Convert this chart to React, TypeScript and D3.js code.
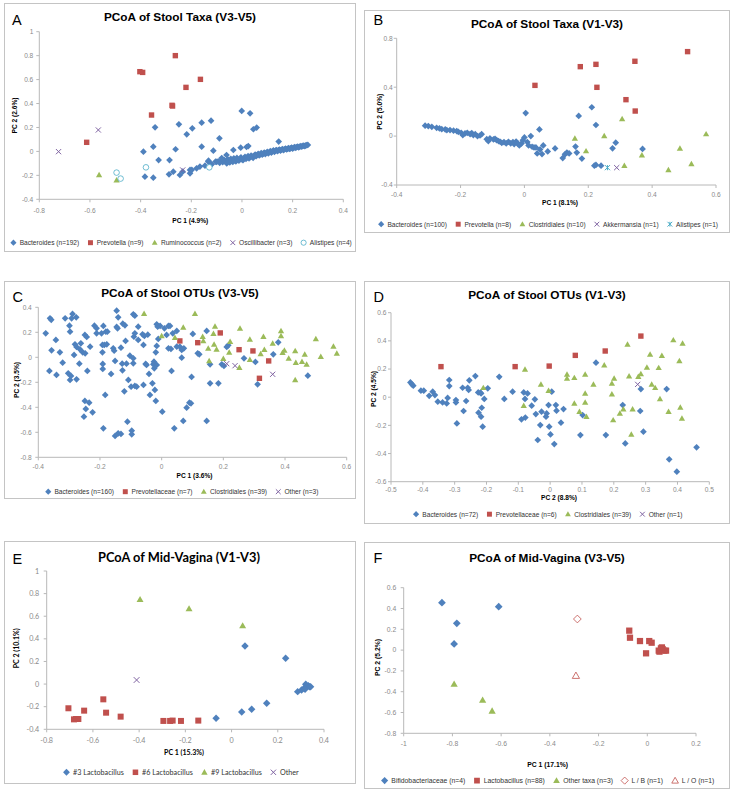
import React from 'react';
import * as d3 from 'd3';

type Pt = [number, number];

// ---------------- Panel A: PCoA of Stool Taxa (V3-V5) ----------------
const aBacteroides: Pt[] = [
  [-0.001, 0.338], [0.032, 0.318], [0.058, 0.199], [0.045, 0.185], [-0.343, 0.201], [-0.249, 0.226],
  [-0.159, 0.240], [-0.122, 0.257], [-0.196, 0.193], [-0.218, 0.143], [-0.089, 0.109], [0.145, 0.082],
  [-0.350, 0.040], [-0.389, -0.002], [-0.262, 0.018], [-0.159, 0.040], [-0.113, 0.006], [0.025, 0.045],
  [0.018, 0.037], [-0.005, 0.031], [-0.034, 0.012], [-0.061, -0.030], [-0.080, -0.055], [-0.329, -0.072],
  [-0.286, -0.072], [-0.132, -0.077], [-0.383, -0.211], [-0.350, -0.219], [-0.288, -0.191], [-0.271, -0.169],
  [-0.245, -0.197], [-0.234, -0.169], [-0.205, -0.155], [-0.205, -0.183], [-0.179, -0.141], [-0.166, -0.127],
  [-0.146, -0.119], [-0.122, -0.108], [-0.104, -0.085], [-0.133, -0.085], [-0.119, -0.107], [-0.198, -0.154],
  [-0.100, -0.088], [-0.094, -0.082], [-0.088, -0.095], [-0.082, -0.078], [-0.076, -0.090], [-0.070, -0.072],
  [-0.066, -0.084], [-0.060, -0.100], [-0.056, -0.066], [-0.052, -0.080], [-0.048, -0.092], [-0.044, -0.062],
  [-0.040, -0.076], [-0.036, -0.088], [-0.032, -0.058], [-0.028, -0.072], [-0.024, -0.084], [-0.020, -0.054],
  [-0.016, -0.068], [-0.012, -0.078], [-0.008, -0.060], [-0.004, -0.050], [0.000, -0.066], [0.004, -0.074],
  [0.008, -0.056], [0.012, -0.046], [0.016, -0.062], [0.020, -0.052], [0.024, -0.040], [0.028, -0.058],
  [0.032, -0.048], [0.036, -0.034], [0.040, -0.044], [0.044, -0.054], [0.048, -0.036], [0.052, -0.026],
  [0.056, -0.040], [0.060, -0.030], [0.064, -0.020], [0.068, -0.034], [0.072, -0.024], [0.076, -0.014],
  [0.080, -0.028], [0.084, -0.018], [0.088, -0.010], [0.092, -0.022], [0.096, -0.012], [0.100, -0.004],
  [0.104, -0.016], [0.108, -0.006], [0.112, 0.002], [0.116, -0.010], [0.120, 0.000], [0.124, 0.008],
  [0.128, -0.004], [0.132, 0.006], [0.136, 0.012], [0.140, 0.002], [0.144, 0.010], [0.148, 0.016],
  [0.152, 0.006], [0.156, 0.014], [0.160, 0.020], [0.164, 0.010], [0.168, 0.018], [0.172, 0.024],
  [0.176, 0.016], [0.180, 0.022], [0.184, 0.028], [0.188, 0.020], [0.192, 0.026], [0.196, 0.032],
  [0.200, 0.024], [0.204, 0.030], [0.208, 0.036], [0.212, 0.030], [0.216, 0.036], [0.220, 0.040],
  [0.224, 0.034], [0.228, 0.040], [0.232, 0.044], [0.236, 0.040], [0.240, 0.046], [0.244, 0.048],
  [0.248, 0.044], [0.252, 0.050], [0.256, 0.052], [0.260, 0.054],
];
const aPrevotella: Pt[] = [
  [-0.263, 0.80], [-0.403, 0.666], [-0.392, 0.66], [-0.164, 0.602], [-0.221, 0.535], [-0.274, 0.379],
  [-0.276, 0.385], [-0.357, 0.304], [-0.613, 0.076],
];
const aRuminococcus: Pt[] = [[-0.564, -0.197], [-0.495, -0.239]];
const aOscillibacter: Pt[] = [[-0.567, 0.179], [-0.724, -0.002], [-0.234, -0.155]];
const aAlistipes: Pt[] = [[-0.495, -0.177], [-0.479, -0.227], [-0.379, -0.133], [-0.129, -0.133]];
const aXTicks = [-0.8, -0.6, -0.4, -0.2, 0, 0.2, 0.4];
const aYTicks = [-0.4, -0.2, 0, 0.2, 0.4, 0.6, 0.8, 1];

// ---------------- Panel B: PCoA of Stool Taxa (V1-V3) ----------------
const bBacteroides: Pt[] = [
  [-0.311, 0.085], [-0.301, 0.082], [-0.290, 0.076], [-0.275, 0.068], [-0.266, 0.063], [-0.259, 0.057],
  [-0.248, 0.055], [-0.243, 0.049], [-0.233, 0.049], [-0.222, 0.044], [-0.212, 0.041], [-0.207, 0.035],
  [-0.198, 0.027], [-0.193, 0.008], [-0.186, 0.022], [-0.179, 0.027], [-0.170, 0.016], [-0.165, 0.025],
  [-0.160, 0.008], [-0.154, 0.016], [-0.147, 0.000], [-0.139, 0.005], [-0.134, 0.016], [-0.118, -0.025],
  [-0.113, -0.041], [-0.108, -0.019], [-0.097, -0.027], [-0.092, -0.022], [-0.087, -0.033], [-0.081, -0.041],
  [-0.076, -0.046], [-0.071, -0.055], [-0.064, -0.049], [-0.057, -0.060], [-0.050, -0.046], [-0.043, -0.060],
  [-0.036, -0.049], [-0.032, -0.065], [-0.026, -0.044], [-0.021, -0.060], [-0.016, -0.076], [-0.009, -0.060],
  [-0.005, -0.033], [0.000, -0.011], [0.004, 0.188], [0.009, -0.049], [0.013, -0.076], [0.020, 0.000],
  [0.024, -0.087], [0.030, -0.093], [0.036, -0.093], [0.040, -0.142], [0.047, 0.055], [0.049, -0.109],
  [0.055, -0.147], [0.059, -0.076], [0.073, -0.125], [0.096, -0.101], [0.120, -0.180], [0.127, -0.149],
  [0.133, -0.135], [0.140, -0.142], [0.160, -0.086], [0.164, -0.135], [0.170, 0.165], [0.180, -0.184],
  [0.211, 0.236], [0.219, -0.242], [0.224, 0.091], [0.224, -0.236], [0.240, -0.242], [0.276, -0.100],
  [0.286, -0.054], [0.370, -0.105],
];
const bPrevotella: Pt[] = [
  [0.175, 0.568], [0.224, 0.587], [0.227, 0.399], [0.346, 0.612], [0.318, 0.298], [0.347, 0.205],
  [0.511, 0.691], [0.033, 0.415],
];
const bClostridiales: Pt[] = [
  [0.158, -0.018], [0.193, -0.122], [0.250, 0.001], [0.306, 0.140], [0.313, -0.242], [0.368, -0.155],
  [0.451, -0.277], [0.487, -0.100], [0.523, -0.228], [0.569, 0.017],
];
const bAkkermansia: Pt[] = [[0.289, -0.258]];
const bAlistipes: Pt[] = [[0.260, -0.258]];
const bXTicks = [-0.4, -0.2, 0, 0.2, 0.4, 0.6];
const bYTicks = [-0.4, 0, 0.4, 0.8];

// ---------------- Panel C: PCoA of Stool OTUs (V3-V5) ----------------
const cBacteroides: Pt[] = [
  [-0.376, 0.192], [-0.362, 0.312], [-0.358, 0.300], [-0.357, 0.056], [-0.364, -0.109], [-0.343, 0.139],
  [-0.341, -0.141], [-0.330, 0.040], [-0.321, -0.043], [-0.313, 0.312], [-0.299, 0.253], [-0.297, 0.205],
  [-0.303, -0.128], [-0.297, -0.181], [-0.294, -0.149], [-0.292, 0.312], [-0.289, 0.347], [-0.284, 0.019],
  [-0.281, 0.104], [-0.277, 0.320], [-0.276, 0.083], [-0.276, -0.176], [-0.267, -0.051], [-0.265, 0.064],
  [-0.262, 0.112], [-0.256, 0.040], [-0.248, 0.032], [-0.252, -0.475], [-0.249, 0.179], [-0.249, -0.349],
  [-0.246, -0.413], [-0.243, 0.163], [-0.241, -0.109], [-0.235, -0.363], [-0.232, 0.085], [-0.224, -0.440],
  [-0.218, 0.253], [-0.211, 0.232], [-0.211, 0.192], [-0.195, 0.192], [-0.192, 0.099], [-0.192, 0.040],
  [-0.191, -0.053], [-0.191, -0.093], [-0.189, 0.251], [-0.189, -0.568], [-0.186, 0.099], [-0.183, -0.301],
  [-0.181, 0.205], [-0.178, 0.104], [-0.176, 0.205], [-0.164, -0.133], [-0.157, 0.072], [-0.154, 0.053],
  [-0.151, -0.029], [-0.151, -0.629], [-0.146, 0.373], [-0.146, 0.243], [-0.143, 0.232], [-0.141, 0.320],
  [-0.141, -0.608], [-0.132, -0.613], [-0.132, 0.077], [-0.128, -0.051], [-0.127, -0.104], [-0.126, 0.269],
  [-0.121, -0.272], [-0.119, 0.256], [-0.117, 0.131], [-0.114, -0.051], [-0.111, -0.515], [-0.108, -0.181],
  [-0.103, 0.013], [-0.099, -0.235], [-0.097, -0.587], [-0.097, -0.616], [-0.092, 0.344], [-0.092, -0.048],
  [-0.092, -0.008], [-0.090, 0.165], [-0.087, 0.333], [-0.087, 0.192], [-0.087, -0.229], [-0.081, -0.235],
  [-0.076, 0.139], [-0.076, 0.245], [-0.062, 0.184], [-0.059, 0.099], [-0.059, -0.221], [-0.056, 0.171],
  [-0.052, -0.053], [-0.049, -0.061], [-0.045, 0.181], [-0.041, -0.133], [-0.038, -0.301], [-0.030, -0.208],
  [-0.027, -0.056], [-0.025, -0.035], [-0.024, -0.088], [-0.022, -0.261], [-0.019, 0.040], [-0.019, -0.349],
  [-0.016, -0.061], [-0.016, 0.091], [-0.016, 0.264], [-0.013, 0.245], [-0.011, 0.147], [-0.005, 0.251],
  [0.002, -0.435], [0.009, 0.232], [0.016, 0.179], [0.022, 0.251], [0.022, 0.072], [0.027, 0.251],
  [0.030, 0.067], [0.032, -0.109], [0.036, 0.192], [0.041, -0.568], [0.049, 0.085], [0.049, 0.211],
  [0.059, 0.085], [0.065, 0.059], [0.065, -0.003], [0.070, -0.509], [0.072, 0.072], [0.081, -0.403],
  [0.090, -0.363], [0.095, -0.368], [0.097, -0.157], [0.101, 0.187], [0.117, 0.032], [0.122, 0.024],
  [0.146, -0.509], [0.146, 0.211], [0.157, -0.056], [0.157, -0.208], [0.184, -0.208], [0.195, -0.056],
  [0.202, -0.069], [0.211, 0.083], [0.216, 0.096], [0.267, -0.008], [0.304, -0.037], [0.311, -0.216],
  [0.362, 0.024], [0.378, 0.120], [0.474, -0.147],
];
const cPrevotellaceae: Pt[] = [
  [0.059, 0.131], [0.117, 0.117], [0.190, 0.195], [0.251, 0.061], [0.296, 0.051], [0.347, -0.029], [0.317, -0.168],
];
const cClostridiales: Pt[] = [
  [-0.057, 0.349], [0.108, 0.349], [0.000, 0.171], [0.043, 0.157], [0.070, 0.240], [0.133, 0.165],
  [0.135, 0.131], [0.173, 0.248], [0.168, 0.189], [0.170, 0.104], [0.178, 0.064], [0.151, 0.072],
  [0.154, -0.029], [0.200, -0.011], [0.222, 0.125], [0.219, 0.040], [0.254, 0.232], [0.252, -0.083],
  [0.286, 0.144], [0.286, -0.019], [0.321, 0.027], [0.330, 0.165], [0.333, 0.061], [0.360, 0.112],
  [0.387, 0.171], [0.387, 0.211], [0.392, 0.037], [0.398, 0.056], [0.412, -0.008], [0.433, 0.051],
  [0.435, -0.043], [0.433, -0.181], [0.455, -0.035], [0.464, 0.024], [0.470, -0.056], [0.500, 0.147],
  [0.516, 0.005], [0.557, 0.088], [0.568, 0.032],
];
const cOther: Pt[] = [[0.211, -0.051], [0.238, -0.067], [0.360, -0.136]];
const cXTicks = [-0.4, -0.2, 0, 0.2, 0.4, 0.6];
const cYTicks = [-0.8, -0.6, -0.4, -0.2, 0, 0.2, 0.4];

// ---------------- Panel D: PCoA of Stool OTUs (V1-V3) ----------------
const dBacteroides: Pt[] = [
  [-0.439, 0.105], [-0.434, 0.091], [-0.430, 0.082], [-0.406, 0.046], [-0.397, 0.046], [-0.380, 0.010],
  [-0.369, 0.039], [-0.362, 0.015], [-0.353, -0.032], [-0.338, -0.037], [-0.325, -0.044], [-0.322, -0.005],
  [-0.317, 0.122], [-0.317, 0.079], [-0.296, -0.020], [-0.296, -0.037], [-0.293, -0.186], [-0.275, 0.067],
  [-0.272, -0.098], [-0.264, -0.027], [-0.259, 0.067], [-0.256, 0.051], [-0.254, 0.120], [-0.235, 0.150],
  [-0.226, 0.034], [-0.225, -0.110], [-0.219, 0.032], [-0.217, 0.027], [-0.217, -0.138], [-0.215, -0.075],
  [-0.212, -0.209], [-0.207, -0.012], [-0.196, 0.063], [-0.160, 0.145], [-0.144, -0.012], [-0.118, 0.039],
  [-0.090, -0.157], [-0.083, 0.034], [-0.079, -0.012], [-0.078, -0.145], [-0.071, 0.027], [-0.058, -0.060],
  [-0.048, -0.015], [-0.045, -0.120], [-0.039, -0.304], [-0.031, -0.198], [-0.027, -0.103], [-0.013, -0.138],
  [-0.011, -0.115], [-0.005, -0.056], [-0.003, -0.209], [0.001, -0.264], [0.005, 0.039], [0.013, -0.333],
  [0.018, -0.056], [0.020, -0.096], [0.034, -0.181], [0.042, -0.084], [0.095, -0.269], [0.102, -0.127],
  [0.144, 0.245], [0.175, -0.269], [0.228, -0.056], [0.236, -0.328], [0.283, -0.098], [0.285, 0.058],
  [0.293, -0.245], [0.366, 0.058], [0.374, -0.441], [0.398, -0.529], [0.460, -0.356],
];
const dPrevotellaceae: Pt[] = [
  [-0.343, 0.217], [-0.110, 0.217], [-0.003, 0.221], [0.079, 0.297], [0.173, 0.328], [0.285, 0.434],
];
const dClostridiales: Pt[] = [
  [-0.210, 0.067], [-0.079, 0.198], [-0.083, -0.060], [-0.029, 0.091], [-0.005, 0.046], [0.053, 0.162],
  [0.053, 0.134], [0.076, 0.138], [0.076, -0.044], [0.092, -0.103], [0.110, 0.162], [0.110, 0.027],
  [0.110, -0.037], [0.114, -0.138], [0.136, 0.091], [0.170, 0.228], [0.194, 0.098], [0.194, 0.022],
  [0.201, 0.134], [0.198, -0.162], [0.243, 0.375], [0.219, -0.115], [0.230, -0.084], [0.255, -0.264],
  [0.248, 0.150], [0.259, -0.084], [0.277, 0.146], [0.285, 0.166], [0.304, 0.212], [0.314, 0.304],
  [0.319, 0.091], [0.330, 0.067], [0.341, 0.209], [0.345, -0.012], [0.351, 0.295], [0.372, -0.103],
  [0.387, 0.406], [0.406, 0.257], [0.409, -0.072], [0.414, -0.150], [0.416, 0.382],
];
const dOther: Pt[] = [[0.275, 0.091]];
const dXTicks = [-0.5, -0.4, -0.3, -0.2, -0.1, 0, 0.1, 0.2, 0.3, 0.4, 0.5];
const dYTicks = [-0.6, -0.4, -0.2, 0, 0.2, 0.4, 0.6];

// ---------------- Panel E: PCoA of Mid-Vagina (V1-V3) ----------------
const eLacto3: Pt[] = [
  [-0.067, -0.303], [0.044, -0.247], [0.058, 0.337], [0.087, -0.223], [0.152, -0.170], [0.234, 0.228],
  [0.286, -0.067], [0.303, -0.052], [0.314, -0.037], [0.321, -0.002], [0.325, -0.023], [0.332, -0.014],
  [0.337, -0.023], [0.342, -0.023], [0.318, -0.045],
];
const eLacto6: Pt[] = [
  [-0.706, -0.214], [-0.682, -0.312], [-0.673, -0.309], [-0.663, -0.309], [-0.638, -0.235], [-0.555, -0.135],
  [-0.543, -0.253], [-0.480, -0.288], [-0.295, -0.326], [-0.266, -0.326], [-0.255, -0.323], [-0.219, -0.326],
  [-0.144, -0.323],
];
const eLacto9: Pt[] = [[-0.396, 0.749], [-0.184, 0.667], [0.048, 0.517]];
const eOther: Pt[] = [[-0.411, 0.036]];
const eXTicks = [-0.8, -0.6, -0.4, -0.2, 0, 0.2, 0.4];
const eYTicks = [-0.4, -0.2, 0, 0.2, 0.4, 0.6, 0.8, 1];

// ---------------- Panel F: PCoA of Mid-Vagina (V3-V5) ----------------
const fBifido: Pt[] = [[-0.843, 0.456], [-0.782, 0.257], [-0.793, 0.059], [-0.610, 0.417]];
const fLacto: Pt[] = [
  [-0.074, 0.187], [-0.071, 0.119], [-0.030, 0.087], [0.008, 0.087], [0.018, 0.071], [-0.005, -0.031],
  [0.050, -0.015], [0.056, 0.017], [0.063, 0.010], [0.070, -0.005], [0.077, -0.005], [0.047, -0.005],
  [0.060, 0.026],
];
const fOtherTaxa: Pt[] = [[-0.793, -0.326], [-0.676, -0.480], [-0.637, -0.585]];
const fLB: Pt[] = [[-0.287, 0.299]];
const fLO: Pt[] = [[-0.293, -0.246]];
const fXTicks = [-1, -0.8, -0.6, -0.4, -0.2, 0, 0.2];
const fYTicks = [-0.8, -0.6, -0.4, -0.2, 0, 0.2, 0.4, 0.6];

// ---------------- styling ----------------
const BLUE = '#4F81BD';
const RED = '#C0504D';
const GREEN = '#9BBB59';
const PURPLE = '#8064A2';
const CYAN = '#4BACC6';

type Kind = 'diamond' | 'square' | 'triangle' | 'x' | 'circle' | 'star' | 'diamondOpen' | 'triangleOpen';
interface Series { name: string; data: Pt[]; kind: Kind; color: string }
interface Panel {
  letter: string; title: string; box: [number, number, number, number]; plot: [number, number, number, number];
  xDomain: [number, number]; yDomain: [number, number]; xTicks: number[]; yTicks: number[];
  titleX: number; titleY: number; letterX: number; letterY: number;
  xTitle: string; xTitleX: number; xTitleY: number; yTitle: string; yTitleX: number; yTitleY: number;
  xLabelDy: number; yLabelDx: number; legendY: number; legendX: number; series: Series[];
  font: string; mk: number; tickSize: number; titleSize: number; legendSize: number; axisTitleSize: number;
}

const ARIAL = '"Liberation Sans", Arial, sans-serif';
const CAL = 'Lato, "Open Sans", sans-serif';

const panels: Panel[] = [
  {
    letter: 'A', title: 'PCoA of Stool Taxa (V3-V5)', box: [4, 3, 355, 251], plot: [39.3, 31.7, 343.3, 199.3],
    xDomain: [-0.8, 0.4], yDomain: [-0.4, 1], xTicks: aXTicks, yTicks: aYTicks,
    titleX: 180, titleY: 21, letterX: 12, letterY: 25,
    xTitle: 'PC 1 (4.9%)', xTitleX: 190.3, xTitleY: 223.3, yTitle: 'PC 2 (2.6%)', yTitleX: 17.3, yTitleY: 115.5,
    xLabelDy: 13.5, yLabelDx: 6, legendY: 245, legendX: 181, font: ARIAL, mk: 1.08, tickSize: 6.6, titleSize: 11.8, legendSize: 6.6, axisTitleSize: 6.6,
    series: [
      { name: 'Bacteroides (n=192)', data: aBacteroides, kind: 'diamond', color: BLUE },
      { name: 'Prevotella (n=9)', data: aPrevotella, kind: 'square', color: RED },
      { name: 'Ruminococcus (n=2)', data: aRuminococcus, kind: 'triangle', color: GREEN },
      { name: 'Oscillibacter (n=3)', data: aOscillibacter, kind: 'x', color: PURPLE },
      { name: 'Alistipes (n=4)', data: aAlistipes, kind: 'circle', color: CYAN },
    ],
  },
  {
    letter: 'B', title: 'PCoA of Stool Taxa (V1-V3)', box: [364, 10, 729, 232], plot: [396.7, 38.3, 716, 185],
    xDomain: [-0.4, 0.6], yDomain: [-0.4, 0.8], xTicks: bXTicks, yTicks: bYTicks,
    titleX: 547, titleY: 28, letterX: 373.5, letterY: 24.5,
    xTitle: 'PC 1 (8.1%)', xTitleX: 560, xTitleY: 204.5, yTitle: 'PC 2 (5.0%)', yTitleX: 381.5, yTitleY: 111.7,
    xLabelDy: 11.5, yLabelDx: 4, legendY: 226.5, legendX: 548, font: ARIAL, mk: 1.08, tickSize: 6.6, titleSize: 11.8, legendSize: 6.6, axisTitleSize: 6.6,
    series: [
      { name: 'Bacteroides (n=100)', data: bBacteroides, kind: 'diamond', color: BLUE },
      { name: 'Prevotella (n=8)', data: bPrevotella, kind: 'square', color: RED },
      { name: 'Clostridiales (n=10)', data: bClostridiales, kind: 'triangle', color: GREEN },
      { name: 'Akkermansia (n=1)', data: bAkkermansia, kind: 'x', color: PURPLE },
      { name: 'Alistipes (n=1)', data: bAlistipes, kind: 'star', color: CYAN },
    ],
  },
  {
    letter: 'C', title: 'PCoA of Stool OTUs (V3-V5)', box: [4, 281, 355, 498], plot: [38.3, 307.3, 346.7, 457.3],
    xDomain: [-0.4, 0.6], yDomain: [-0.8, 0.4], xTicks: cXTicks, yTicks: cYTicks,
    titleX: 180, titleY: 297, letterX: 12.5, letterY: 302,
    xTitle: 'PC 1 (3.6%)', xTitleX: 194.5, xTitleY: 478, yTitle: 'PC 2 (3.5%)', yTitleX: 18.5, yTitleY: 380,
    xLabelDy: 11.5, yLabelDx: 6.5, legendY: 494, legendX: 181.7, font: ARIAL, mk: 1.08, tickSize: 6.6, titleSize: 11.8, legendSize: 6.6, axisTitleSize: 6.6,
    series: [
      { name: 'Bacteroides (n=160)', data: cBacteroides, kind: 'diamond', color: BLUE },
      { name: 'Prevotellaceae (n=7)', data: cPrevotellaceae, kind: 'square', color: RED },
      { name: 'Clostridiales (n=39)', data: cClostridiales, kind: 'triangle', color: GREEN },
      { name: 'Other (n=3)', data: cOther, kind: 'x', color: PURPLE },
    ],
  },
  {
    letter: 'D', title: 'PCoA of Stool OTUs (V1-V3)', box: [364, 281, 729, 523], plot: [391, 312.7, 709.3, 481.7],
    xDomain: [-0.5, 0.5], yDomain: [-0.6, 0.6], xTicks: dXTicks, yTicks: dYTicks,
    titleX: 547, titleY: 298.5, letterX: 373.5, letterY: 302,
    xTitle: 'PC 2 (8.8%)', xTitleX: 559, xTitleY: 500, yTitle: 'PC 2 (4.5%)', yTitleX: 376, yTitleY: 389,
    xLabelDy: 10.5, yLabelDx: 4.5, legendY: 516.5, legendX: 547.7, font: ARIAL, mk: 1.08, tickSize: 6.6, titleSize: 11.8, legendSize: 6.6, axisTitleSize: 6.6,
    series: [
      { name: 'Bacteroides (n=72)', data: dBacteroides, kind: 'diamond', color: BLUE },
      { name: 'Prevotellaceae (n=6)', data: dPrevotellaceae, kind: 'square', color: RED },
      { name: 'Clostridiales (n=39)', data: dClostridiales, kind: 'triangle', color: GREEN },
      { name: 'Other (n=1)', data: dOther, kind: 'x', color: PURPLE },
    ],
  },
  {
    letter: 'E', title: 'PCoA of Mid-Vagina (V1-V3)', box: [4, 541, 355, 783], plot: [46.7, 571, 324, 729.3],
    xDomain: [-0.8, 0.4], yDomain: [-0.4, 1], xTicks: eXTicks, yTicks: eYTicks,
    titleX: 179, titleY: 561.7, letterX: 12.5, letterY: 563.5,
    xTitle: 'PC 1 (15.3%)', xTitleX: 184, xTitleY: 755, yTitle: 'PC 2 (10.1%)', yTitleX: 19, yTitleY: 648.3,
    xLabelDy: 14, yLabelDx: 7.5, legendY: 774.8, legendX: 180.8, font: CAL, mk: 1.2, tickSize: 7.2, titleSize: 12.8, legendSize: 7.2, axisTitleSize: 7,
    series: [
      { name: '#3 Lactobacillus', data: eLacto3, kind: 'diamond', color: BLUE },
      { name: '#6 Lactobacillus', data: eLacto6, kind: 'square', color: RED },
      { name: '#9 Lactobacillus', data: eLacto9, kind: 'triangle', color: GREEN },
      { name: 'Other', data: eOther, kind: 'x', color: PURPLE },
    ],
  },
  {
    letter: 'F', title: 'PCoA of Mid-Vagina (V3-V5)', box: [364, 542, 729, 788], plot: [403.7, 587.7, 696, 733.3],
    xDomain: [-1, 0.2], yDomain: [-0.8, 0.6], xTicks: fXTicks, yTicks: fYTicks,
    titleX: 547, titleY: 562.3, letterX: 373.5, letterY: 563,
    xTitle: 'PC 1 (17.1%)', xTitleX: 547.7, xTitleY: 766.7, yTitle: 'PC 2 (5.2%)', yTitleX: 380, yTitleY: 657.5,
    xLabelDy: 13, yLabelDx: 7.5, legendY: 783, legendX: 547.7, font: ARIAL, mk: 1.25, tickSize: 6.8, titleSize: 11.8, legendSize: 6.8, axisTitleSize: 6.8,
    series: [
      { name: 'Bifidobacteriaceae (n=4)', data: fBifido, kind: 'diamond', color: BLUE },
      { name: 'Lactobacillus (n=88)', data: fLacto, kind: 'square', color: RED },
      { name: 'Other taxa (n=3)', data: fOtherTaxa, kind: 'triangle', color: GREEN },
      { name: 'L / B (n=1)', data: fLB, kind: 'diamondOpen', color: RED },
      { name: 'L / O (n=1)', data: fLO, kind: 'triangleOpen', color: RED },
    ],
  },
];

let measureCtx: CanvasRenderingContext2D | null = null;
function textWidth(t: string, font: string): number {
  if (!measureCtx && typeof document !== 'undefined') {
    measureCtx = document.createElement('canvas').getContext('2d');
  }
  if (!measureCtx) return t.length * 4;
  measureCtx.font = font;
  return measureCtx.measureText(t).width;
}

function Marker({ kind, x, y, k, color }: { kind: Kind; x: number; y: number; k: number; color: string }) {
  switch (kind) {
    case 'diamond': {
      const s = 3.1 * k;
      return <path d={`M${x},${y - s}L${x + s},${y}L${x},${y + s}L${x - s},${y}Z`} fill={color} />;
    }
    case 'diamondOpen': {
      const s = 3.1 * k;
      return <path d={`M${x},${y - s}L${x + s},${y}L${x},${y + s}L${x - s},${y}Z`} fill="white" stroke={color} strokeWidth={0.8} />;
    }
    case 'square': {
      const s = 2.5 * k;
      return <rect x={x - s} y={y - s} width={2 * s} height={2 * s} fill={color} />;
    }
    case 'triangle': {
      const s = 2.9 * k;
      return <path d={`M${x},${y - s}L${x + s},${y + s * 0.75}L${x - s},${y + s * 0.75}Z`} fill={color} />;
    }
    case 'triangleOpen': {
      const s = 2.9 * k;
      return <path d={`M${x},${y - s}L${x + s},${y + s * 0.75}L${x - s},${y + s * 0.75}Z`} fill="white" stroke={color} strokeWidth={0.8} />;
    }
    case 'x': {
      const s = 2.4 * k;
      return <path d={`M${x - s},${y - s}L${x + s},${y + s}M${x - s},${y + s}L${x + s},${y - s}`} stroke={color} strokeWidth={1} fill="none" />;
    }
    case 'star': {
      const s = 2.4 * k;
      return <path d={`M${x - s},${y - s}L${x + s},${y + s}M${x - s},${y + s}L${x + s},${y - s}M${x},${y - s}L${x},${y + s}`} stroke={color} strokeWidth={1} fill="none" />;
    }
    case 'circle': {
      const s = 2.6 * k;
      return <circle cx={x} cy={y} r={s} fill="white" stroke={color} strokeWidth={0.8} />;
    }
  }
  return null;
}

const fmt = (v: number) => String(Math.round(v * 10) / 10);

function PanelView({ p }: { p: Panel }) {
  const [l, t, r, b] = p.plot;
  const x = d3.scaleLinear().domain(p.xDomain).range([l, r]);
  const y = d3.scaleLinear().domain(p.yDomain).range([b, t]);
  const axisColor = '#b8b8b8';
  const tickColor = '#8a8a8a';
  const legendFont = `${p.legendSize}px ${p.font}`;
  const mw = 6 * p.mk;
  const items = p.series.map((s) => ({ s, w: textWidth(s.name, legendFont) }));
  const gapIn = 3;
  const gapBetween = 8;
  const total = items.reduce((acc, it) => acc + mw + gapIn + it.w, 0) + gapBetween * (items.length - 1);
  let cursor = p.legendX - total / 2;
  const legendEls = items.map((it, i) => {
    const mx = cursor + mw / 2;
    const tx = cursor + mw + gapIn;
    cursor = tx + it.w + gapBetween;
    return (
      <g key={i}>
        <Marker kind={it.s.kind} x={mx} y={p.legendY - p.legendSize * 0.35} k={p.mk * 0.92} color={it.s.color} />
        <text x={tx} y={p.legendY} fontSize={p.legendSize} fill="#333" fontFamily={p.font}>{it.s.name}</text>
      </g>
    );
  });
  return (
    <g>
      <rect x={p.box[0] + 0.5} y={p.box[1] + 0.5} width={p.box[2] - p.box[0]} height={p.box[3] - p.box[1]} fill="white" stroke="#c4c4c4" strokeWidth={1} />
      <text x={p.letterX} y={p.letterY} fontSize={14.5} fontFamily={ARIAL} fill="#000">{p.letter}</text>
      <text x={p.titleX} y={p.titleY} fontSize={p.titleSize} fontWeight="bold" fontFamily={p.font} textAnchor="middle" fill="#000">{p.title}</text>
      <line x1={l} y1={b} x2={r} y2={b} stroke={axisColor} strokeWidth={1} />
      <line x1={l} y1={t} x2={l} y2={b} stroke={axisColor} strokeWidth={1} />
      {p.xTicks.map((v, i) => (
        <g key={'xt' + i}>
          <line x1={x(v)} x2={x(v)} y1={b} y2={b + 3} stroke={axisColor} />
          <text x={x(v)} y={b + p.xLabelDy} fontSize={p.tickSize} fill={tickColor} textAnchor="middle" fontFamily={p.font}>{fmt(v)}</text>
        </g>
      ))}
      {p.yTicks.map((v, i) => (
        <g key={'yt' + i}>
          <line x1={l - 3} x2={l} y1={y(v)} y2={y(v)} stroke={axisColor} />
          <text x={l - p.yLabelDx} y={y(v) + p.tickSize * 0.35} fontSize={p.tickSize} fill={tickColor} textAnchor="end" fontFamily={p.font}>{fmt(v)}</text>
        </g>
      ))}
      <text x={p.xTitleX} y={p.xTitleY} fontSize={p.axisTitleSize} fontWeight="bold" textAnchor="middle" fontFamily={p.font} fill="#000">{p.xTitle}</text>
      <text transform={`translate(${p.yTitleX},${p.yTitleY}) rotate(-90)`} fontSize={p.axisTitleSize} fontWeight="bold" textAnchor="middle" fontFamily={p.font} fill="#000">{p.yTitle}</text>
      {p.series.map((s, si) => (
        <g key={'s' + si}>
          {s.data.map((d, di) => (
            <Marker key={di} kind={s.kind} x={x(d[0])} y={y(d[1])} k={p.mk} color={s.color} />
          ))}
        </g>
      ))}
      {legendEls}
    </g>
  );
}

export default function App() {
  return (
    <svg width={732} height={794} style={{ position: 'absolute', left: 0, top: 0, background: '#fff' }}>
      <rect x={0} y={0} width={732} height={794} fill="#fff" />
      {panels.map((p) => (
        <PanelView key={p.letter} p={p} />
      ))}
    </svg>
  );
}
